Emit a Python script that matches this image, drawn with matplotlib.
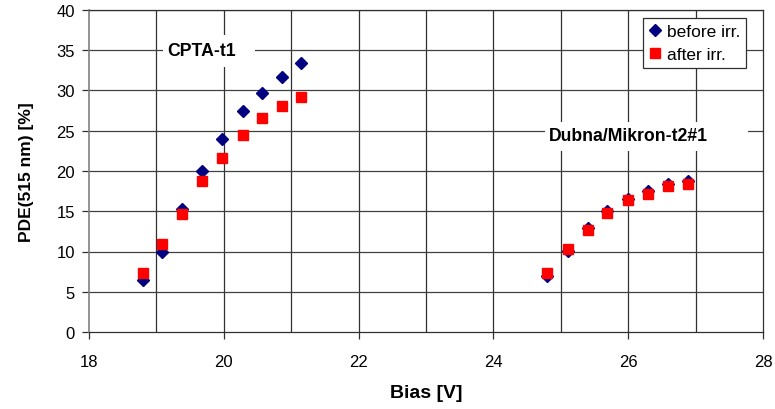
import matplotlib
matplotlib.use("Agg")
import matplotlib.pyplot as plt
from matplotlib.patches import Rectangle

plt.rcParams['font.family'] = ['Liberation Sans', 'DejaVu Sans']

# CPTA-t1
cpta_bias = [18.8, 19.09, 19.38, 19.68, 19.98, 20.28, 20.57, 20.86, 21.15]
cpta_before = [6.4, 10.0, 15.3, 20.05, 24.0, 27.5, 29.7, 31.7, 33.4]
cpta_after = [7.36, 10.87, 14.68, 18.8, 21.66, 24.43, 26.54, 28.03, 29.15]

# Dubna/Mikron-t2#1
dub_bias = [24.8, 25.1, 25.4, 25.69, 26.0, 26.29, 26.59, 26.89]
dub_before = [6.9, 10.1, 12.9, 15.0, 16.5, 17.5, 18.4, 18.7]
dub_after = [7.27, 10.33, 12.73, 14.75, 16.41, 17.2, 18.19, 18.44]

x_ticks = [18, 20, 22, 24, 26, 28]
y_ticks = [0, 5, 10, 15, 20, 25, 30, 35, 40]

fig = plt.figure(figsize=(7.75, 4.1), dpi=100)
ax = fig.add_axes([89/775, 1-333/410, 674/775, 322/410])
ax.set_xlim(18, 28)
ax.set_ylim(0, 40)

# grid
for xv in range(19, 28):
    ax.axvline(xv, color='#303030', lw=0.9, zorder=1)
for yv in y_ticks[1:]:
    ax.axhline(yv, color='#404040', lw=0.9, zorder=1)

for s in ['top', 'right', 'bottom']:
    ax.spines[s].set_color('#303030')
    ax.spines[s].set_linewidth(0.9)
ax.spines['left'].set_color('#808080')
ax.spines['left'].set_linewidth(1.2)

ax.set_xticks(x_ticks)
ax.set_yticks(y_ticks)
ax.tick_params(axis='both', direction='out', length=5, width=0.9, color='#303030', labelsize=12)
ax.tick_params(axis='x', pad=11)
ax.tick_params(axis='y', pad=5)

ax.plot(cpta_bias, cpta_before, linestyle='none', marker='D', color='#000080', ms=6.2, zorder=3, label='before irr.')
ax.plot(cpta_bias, cpta_after, linestyle='none', marker='s', color='#ff0000', ms=7, zorder=4, label='after irr.')
ax.plot(dub_bias, dub_before, linestyle='none', marker='D', color='#000080', ms=6.2, zorder=3)
ax.plot(dub_bias, dub_after, linestyle='none', marker='s', color='#ff0000', ms=7, zorder=4)

# text labels with white boxes
ax.add_patch(Rectangle(((163-89)/674, (333-68)/322), (255-163)/674, (68-36)/322,
                       transform=ax.transAxes, facecolor='white', edgecolor='none', zorder=2))
ax.text((202-89)/674, (333-52)/322, 'CPTA-t1', transform=ax.transAxes, ha='center', va='center',
        fontsize=12.7, fontweight='bold', zorder=5)
ax.add_patch(Rectangle(((545-89)/674, (333-152)/322), (748-545)/674, (152-123)/322,
                       transform=ax.transAxes, facecolor='white', edgecolor='none', zorder=2))
ax.text((628-89)/674, (333-137)/322, 'Dubna/Mikron-t2#1', transform=ax.transAxes, ha='center', va='center',
        fontsize=12.7, fontweight='bold', zorder=5)

leg = ax.legend(loc='upper right', bbox_to_anchor=(0.975, 0.975), fontsize=12.5, frameon=True, fancybox=False,
                edgecolor='#303030', framealpha=1, handlelength=0.6, handletextpad=0.4,
                borderpad=0.35, labelspacing=0.45, borderaxespad=0)
leg.get_frame().set_linewidth(0.9)
leg.set_zorder(6)

ax.set_xlabel('Bias [V]', fontsize=14, fontweight='bold', labelpad=11)
ax.set_ylabel('PDE(515 nm) [%]', fontsize=12.5, fontweight='bold', labelpad=16)

fig.savefig('out.png', dpi=100)
